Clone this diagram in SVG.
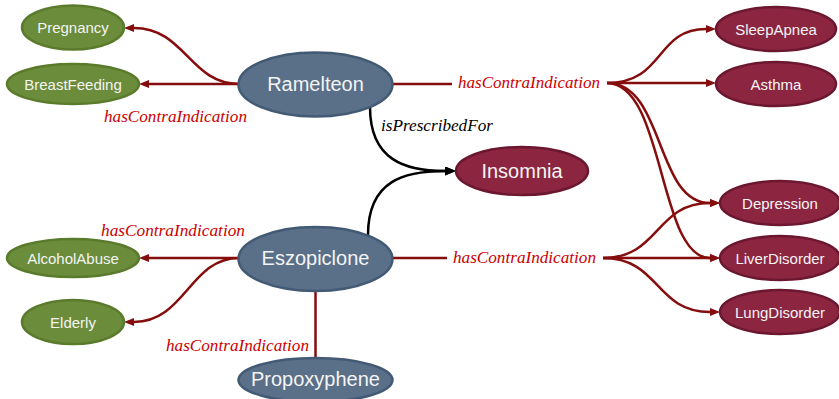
<svg xmlns="http://www.w3.org/2000/svg" width="839" height="399" viewBox="0 0 839 399">
  <style>
    .drug ellipse { fill: #5a6f88; stroke: #435a75; stroke-width: 2.5; }
    .cond ellipse { fill: #6b8c3a; stroke: #5a7b2c; stroke-width: 2.5; }
    .dis ellipse { fill: #8c2540; stroke: #6c1730; stroke-width: 2.5; }
    .node text { fill: #f4f4f4; font-family: "Liberation Sans", Arial, sans-serif; text-anchor: middle; }
    .sm text { font-size: 15px; }
    .lg text { font-size: 20px; }
    .ci { fill: none; stroke: #860d0d; stroke-width: 2.5; }
    .rx { fill: none; stroke: #000; stroke-width: 2.5; }
    .lbl { font-family: "Liberation Serif", "Times New Roman", serif; font-style: italic; font-size: 17px; }
    .lbl-ci { fill: #cc0000; text-anchor: middle; }
    .lbl-rx { fill: #000; }
  </style>
  <defs>
    <marker id="arr-ci" viewBox="0 0 10 8" refX="0" refY="4" markerWidth="10" markerHeight="8" markerUnits="userSpaceOnUse" orient="auto">
      <path d="M0,0 L10,4 L0,8 z" fill="#860d0d"/>
    </marker>
    <marker id="arr-rx" viewBox="0 0 11 9" refX="0" refY="4.5" markerWidth="11" markerHeight="9" markerUnits="userSpaceOnUse" orient="auto">
      <path d="M0,0 L11,4.5 L0,9 z" fill="#000"/>
    </marker>
  </defs>

  <!-- connectors -->
  <g id="connectors">
    <!-- Ramelteon contraindications (left) -->
    <path class="ci" d="M239,84 L149,84" marker-end="url(#arr-ci)"/>
    <path class="ci" d="M239,84 C190,84 185,28 134,28" marker-end="url(#arr-ci)"/>
    <!-- Eszopiclone contraindications (left) -->
    <path class="ci" d="M239,258 L149,258" marker-end="url(#arr-ci)"/>
    <path class="ci" d="M239,258 C190,258 185,322 134,322" marker-end="url(#arr-ci)"/>
    <!-- Eszopiclone to Propoxyphene -->
    <path class="ci" d="M315.5,291 L315.5,358"/>
    <!-- Ramelteon contraindications (right) -->
    <path class="ci" d="M392,84 L452,84"/>
    <path class="ci" d="M607,83 C665,83 655,29 706,29" marker-end="url(#arr-ci)"/>
    <path class="ci" d="M607,83 L706,83" marker-end="url(#arr-ci)"/>
    <path class="ci" d="M607,83 C665,83 655,203 710,203" marker-end="url(#arr-ci)"/>
    <path class="ci" d="M607,83 C665,83 658,258 710,258" marker-end="url(#arr-ci)"/>
    <!-- Eszopiclone contraindications (right) -->
    <path class="ci" d="M392,258 L447,258"/>
    <path class="ci" d="M603,258 C660,258 655,203 710,203" marker-end="url(#arr-ci)"/>
    <path class="ci" d="M603,258 L710,258" marker-end="url(#arr-ci)"/>
    <path class="ci" d="M603,258 C660,258 655,312 710,312" marker-end="url(#arr-ci)"/>
    <!-- isPrescribedFor -->
    <path class="rx" d="M370,107 C370,160 405,171 445,171" marker-end="url(#arr-rx)"/>
    <path class="rx" d="M368,235 C368,180 405,171 445,171" marker-end="url(#arr-rx)"/>

    <!-- edge labels -->
    <text class="lbl lbl-ci" x="175.5" y="122" textLength="143" lengthAdjust="spacingAndGlyphs">hasContraIndication</text>
    <text class="lbl lbl-ci" x="529" y="88" textLength="142" lengthAdjust="spacingAndGlyphs">hasContraIndication</text>
    <text class="lbl lbl-ci" x="173" y="236" textLength="144" lengthAdjust="spacingAndGlyphs">hasContraIndication</text>
    <text class="lbl lbl-ci" x="524.5" y="263" textLength="143" lengthAdjust="spacingAndGlyphs">hasContraIndication</text>
    <text class="lbl lbl-ci" x="237.5" y="351" textLength="143" lengthAdjust="spacingAndGlyphs">hasContraIndication</text>
    <text class="lbl lbl-rx" x="381" y="131" textLength="112" lengthAdjust="spacingAndGlyphs">isPrescribedFor</text>
  </g>

  <!-- drugs -->
  <g id="Ramelteon" class="node drug lg">
    <ellipse cx="315.5" cy="84.5" rx="77" ry="32"/>
    <text x="315.5" y="91">Ramelteon</text>
  </g>
  <g id="Eszopiclone" class="node drug lg">
    <ellipse cx="315.5" cy="259" rx="77" ry="32"/>
    <text x="315.5" y="265">Eszopiclone</text>
  </g>
  <g id="Propoxyphene" class="node drug lg">
    <ellipse cx="315.5" cy="380" rx="77" ry="22"/>
    <text x="315.5" y="386">Propoxyphene</text>
  </g>

  <!-- conditions -->
  <g id="Pregnancy" class="node cond sm">
    <ellipse cx="73" cy="27.5" rx="51" ry="22"/>
    <text x="73" y="33">Pregnancy</text>
  </g>
  <g id="BreastFeeding" class="node cond sm">
    <ellipse cx="73" cy="84" rx="66" ry="20"/>
    <text x="73" y="89.5">BreastFeeding</text>
  </g>
  <g id="AlcoholAbuse" class="node cond sm">
    <ellipse cx="73" cy="258" rx="66" ry="19"/>
    <text x="73" y="263.5">AlcoholAbuse</text>
  </g>
  <g id="Elderly" class="node cond sm">
    <ellipse cx="73" cy="322" rx="51" ry="22"/>
    <text x="73" y="327.5">Elderly</text>
  </g>

  <!-- disorders -->
  <g id="Insomnia" class="node dis lg">
    <ellipse cx="522" cy="171" rx="66" ry="24"/>
    <text x="522" y="178">Insomnia</text>
  </g>
  <g id="SleepApnea" class="node dis sm">
    <ellipse cx="776" cy="29" rx="60" ry="22"/>
    <text x="776" y="34.5">SleepApnea</text>
  </g>
  <g id="Asthma" class="node dis sm">
    <ellipse cx="776" cy="84" rx="60" ry="22"/>
    <text x="776" y="89.5">Asthma</text>
  </g>
  <g id="Depression" class="node dis sm">
    <ellipse cx="780" cy="203" rx="60" ry="22"/>
    <text x="780" y="208.5">Depression</text>
  </g>
  <g id="LiverDisorder" class="node dis sm">
    <ellipse cx="780" cy="258" rx="60" ry="22"/>
    <text x="780" y="263.5">LiverDisorder</text>
  </g>
  <g id="LungDisorder" class="node dis sm">
    <ellipse cx="780" cy="312" rx="60" ry="22"/>
    <text x="780" y="317.5">LungDisorder</text>
  </g>
</svg>
